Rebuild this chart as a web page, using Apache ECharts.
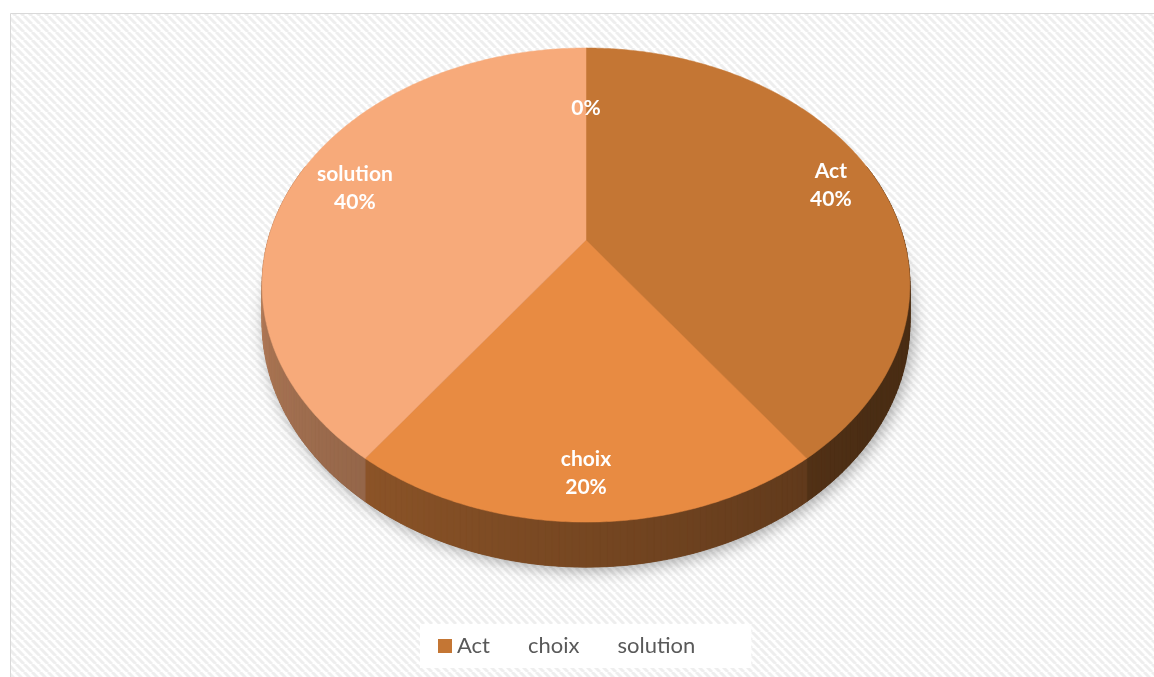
<!DOCTYPE html>
<html>
<head>
<meta charset="utf-8">
<script src="https://cdn.jsdelivr.net/npm/echarts@6/dist/echarts.min.js"></script>
<style>
  html, body { margin: 0; padding: 0; background: #fff; }
  #chart { width: 1154px; height: 677px; }
</style>
</head>
<body>
<div id="chart"></div>
<script>
// Slice data
const categories = ['Act', 'choix', 'solution', ''];
const shares = [40, 20, 40, 0];
const legendNames = ['Act', 'choix', 'solution'];
const palette = ['#c47634', '#e88b42', '#f7aa7a', '#f4b183'];
// how far out along each slice its label sits (fraction of the radius)
const labelReach = [0.85, 0.85, 0.8, 0.66];

// Tilted disc geometry (perspective view of a flat cylinder)
const CX = 586, CY = 240, RX = 318, RY = 228.5, PERSP = 0.19, DEPTH = 36.5;

function project(theta, f, dz) {
  const u = f * Math.sin(theta), v = -f * Math.cos(theta);
  const w = 1 - PERSP * v;
  return [CX + RX * u / w, CY + (RY * v + dz) / w];
}

function shade(hex, k) {
  const n = parseInt(hex.slice(1), 16);
  const r = Math.round(((n >> 16) & 255) * k);
  const g = Math.round(((n >> 8) & 255) * k);
  const b = Math.round((n & 255) * k);
  return 'rgb(' + r + ',' + g + ',' + b + ')';
}

// side walls are lit from the left
function wallLight(theta) {
  const d = theta * 180 / Math.PI;
  const t = Math.min(1, Math.max(0, (d - 130) / 140));
  return 0.38 + 0.36 * t;
}

const total = shares.reduce((a, b) => a + b, 0);
let acc = 0;
const sliceData = shares.map((v, i) => {
  const a0 = acc / total * 2 * Math.PI;
  acc += v;
  const a1 = acc / total * 2 * Math.PI;
  return [a0, a1, v, i];
});

const DEG = Math.PI / 180;

function renderWall(params, api) {
  const a0 = api.value(0), a1 = api.value(1), i = api.value(3);
  const children = [];
  if (params.dataIndex === 0) {
    const outline = [];
    for (let t = 0; t < 360; t += 2) outline.push(project(t * DEG, 1, DEPTH));
    children.push({
      type: 'polygon', shape: { points: outline },
      style: { fill: '#6b4a30', shadowBlur: 16, shadowColor: 'rgba(0,0,0,0.35)', shadowOffsetX: 3, shadowOffsetY: 3 }
    });
  }
  if (a1 - a0 > 0) {
    const steps = Math.max(2, Math.ceil((a1 - a0) / DEG));
    for (let k = 0; k < steps; k++) {
      const t0 = a0 + (a1 - a0) * k / steps;
      const t1 = a0 + (a1 - a0) * (k + 1) / steps;
      const mid = (t0 + t1) / 2;
      if (Math.cos(mid) > 0.35) continue;
      const fill = shade(palette[i], wallLight(mid));
      children.push({
        type: 'polygon',
        shape: { points: [project(t0, 1, 0), project(t1, 1, 0), project(t1, 1, DEPTH), project(t0, 1, DEPTH)] },
        style: { fill: fill, stroke: fill, lineWidth: 0.8 }
      });
    }
  }
  return { type: 'group', children: children };
}

function renderTop(params, api) {
  const a0 = api.value(0), a1 = api.value(1), i = api.value(3);
  if (a1 - a0 <= 0) return { type: 'group', children: [] };
  const steps = Math.max(2, Math.ceil((a1 - a0) / (0.5 * DEG)));
  const pts = [project(0, 0, 0)];
  for (let k = 0; k <= steps; k++) pts.push(project(a0 + (a1 - a0) * k / steps, 1, 0));
  return {
    type: 'polygon', shape: { points: pts },
    style: { fill: palette[i], stroke: palette[i], lineWidth: 0.5 }
  };
}

function renderLabel(params, api) {
  const a0 = api.value(0), a1 = api.value(1), v = api.value(2), i = api.value(3);
  const mid = (a0 + a1) / 2;
  const pos = project(mid, labelReach[i], 0);
  const pct = Math.round(v / total * 100) + '%';
  const name = categories[i];
  return {
    type: 'text', x: pos[0], y: pos[1] + 2,
    style: {
      text: name ? name + '\n' + pct : pct,
      fill: '#ffffff', fontFamily: 'Lato', fontWeight: 'bold', fontSize: 21,
      lineHeight: 28, align: 'center', verticalAlign: 'middle'
    }
  };
}

// diagonal hatch tile for the chart area
const tile = document.createElement('canvas');
tile.width = tile.height = 8;
const tg = tile.getContext('2d');
tg.fillStyle = '#ffffff';
tg.fillRect(0, 0, 8, 8);
tg.strokeStyle = '#eeeeee';
tg.lineWidth = 3;
for (const x0 of [-8, 0, 8]) {
  tg.beginPath(); tg.moveTo(x0, 0); tg.lineTo(x0 + 8, 8); tg.stroke();
}

const chart = echarts.init(document.getElementById('chart'), null, { renderer: 'canvas' });
chart.setOption({
  animation: false,
  backgroundColor: '#ffffff',
  graphic: [{
    type: 'rect', silent: true, z: -10,
    shape: { x: 10.5, y: 13.5, width: 1200, height: 700 },
    style: { fill: { image: tile, repeat: 'repeat' }, stroke: '#d9d9d9', lineWidth: 1 }
  }],
  legend: {
    data: legendNames.map((n, i) => ({
      name: n,
      itemStyle: { color: palette[i], opacity: i === 0 ? 1 : 0 }
    })),
    left: 420, top: 624,
    icon: 'rect', itemWidth: 14, itemHeight: 14, itemGap: 19,
    padding: [11, 56, 11, 18],
    backgroundColor: '#ffffff',
    selectedMode: false,
    textStyle: { fontFamily: 'Lato', fontSize: 22, color: '#595959' }
  },
  series: [
    {
      type: 'pie', name: 'legend', silent: true,
      center: [-500, -500], radius: 1,
      label: { show: false }, labelLine: { show: false },
      data: categories.map((c, i) => ({ name: c, value: shares[i], itemStyle: { color: palette[i] } }))
    },
    { type: 'custom', coordinateSystem: 'none', silent: true, z: 1, renderItem: renderWall, data: sliceData },
    { type: 'custom', coordinateSystem: 'none', silent: true, z: 2, renderItem: renderTop, data: sliceData },
    { type: 'custom', coordinateSystem: 'none', silent: true, z: 3, renderItem: renderLabel, data: sliceData }
  ]
});
</script>
</body>
</html>
